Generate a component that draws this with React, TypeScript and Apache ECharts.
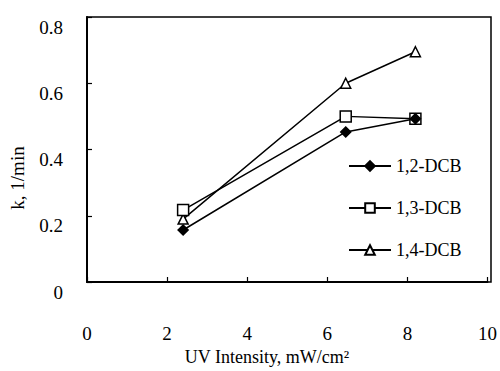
import React, { useEffect, useRef } from "react";
import * as echarts from "echarts";

const seriesNames = ["1,2-DCB", "1,3-DCB", "1,4-DCB"];
const uvIntensity = [2.4, 6.46, 8.2];
const k12 = [0.157, 0.453, 0.493];
const k13 = [0.217, 0.5, 0.493];
const k14 = [0.19, 0.6, 0.695];
const xTicks = [0, 2, 4, 6, 8, 10];
const yTicks = [0, 0.2, 0.4, 0.6, 0.8];

const FONT = "'Liberation Serif', 'Times New Roman', serif";

export default function App() {
  const ref = useRef<HTMLDivElement>(null);
  useEffect(() => {
    if (!ref.current) return;
    const chart = echarts.init(ref.current, null, { renderer: "svg" });
    const mk = (vals: number[]) => uvIntensity.map((x, i) => [x, vals[i]]);
    const symbols = ["diamond", "rect", "triangle"];
    const sizes = [10, 11, 10];
    const fills = ["#000", "#fff", "#fff"];
    const data = [k12, k13, k14];
    chart.setOption({
      animation: false,
      backgroundColor: "#fff",
      grid: { left: 87, right: 9, top: 17, bottom: 89 },
      xAxis: {
        type: "value",
        min: xTicks[0],
        max: xTicks[xTicks.length - 1],
        interval: 2,
        axisLine: { show: true, lineStyle: { color: "#000", width: 2 } },
        axisTick: { show: true, inside: true, length: 5, lineStyle: { color: "#000", width: 1.2 } },
        axisLabel: { color: "#000", fontFamily: FONT, fontSize: 19, margin: 42, lineHeight: 19 },
        splitLine: { show: false },
      },
      yAxis: {
        type: "value",
        min: yTicks[0],
        max: yTicks[yTicks.length - 1],
        interval: 0.2,
        axisLine: { show: true, lineStyle: { color: "#000", width: 2 } },
        axisTick: { show: true, inside: true, length: 5, lineStyle: { color: "#000", width: 1.2 } },
        axisLabel: {
          color: "#000",
          fontFamily: FONT,
          fontSize: 19,
          margin: 24,
          verticalAlign: "top",
          lineHeight: 20,
          formatter: (v: number) => (v === 0 ? "0" : v.toFixed(1)),
        },
        splitLine: { show: false },
      },
      legend: {
        orient: "vertical",
        left: 343,
        top: 151,
        itemGap: 22,
        itemWidth: 42,
        itemHeight: 12,
        data: seriesNames,
        textStyle: { color: "#000", fontFamily: FONT, fontSize: 18, lineHeight: 20 },
      },
      graphic: [
        {
          type: "rect",
          shape: { x: 87, y: 17, width: 404, height: 265 },
          style: { fill: "none", stroke: "#000", lineWidth: 1.5 },
          silent: true,
          z: 0,
        },
        {
          type: "text",
          x: 267,
          y: 357,
          style: {
            text: "UV Intensity, mW/cm²",
            fontFamily: FONT,
            fontSize: 18,
            lineHeight: 18,
            fill: "#000",
            align: "center",
            verticalAlign: "middle",
          },
        },
        {
          type: "text",
          x: 17,
          y: 178,
          rotation: Math.PI / 2,
          style: {
            text: "k, 1/min",
            fontFamily: FONT,
            fontSize: 19,
            fill: "#000",
            align: "center",
            verticalAlign: "middle",
          },
        },
      ],
      series: seriesNames.map((name, i) => ({
        name,
        type: "line",
        data: mk(data[i]),
        symbol: symbols[i],
        symbolSize: sizes[i],
        showSymbol: true,
        lineStyle: { color: "#000", width: 1.5 },
        itemStyle: { color: fills[i], borderColor: "#000", borderWidth: 1.5 },
        z: 3 - i,
      })),
    });
    return () => chart.dispose();
  }, []);
  return (
    <div
      ref={ref}
      style={{ position: "absolute", left: 0, top: 0, width: 500, height: 371 }}
    />
  );
}
